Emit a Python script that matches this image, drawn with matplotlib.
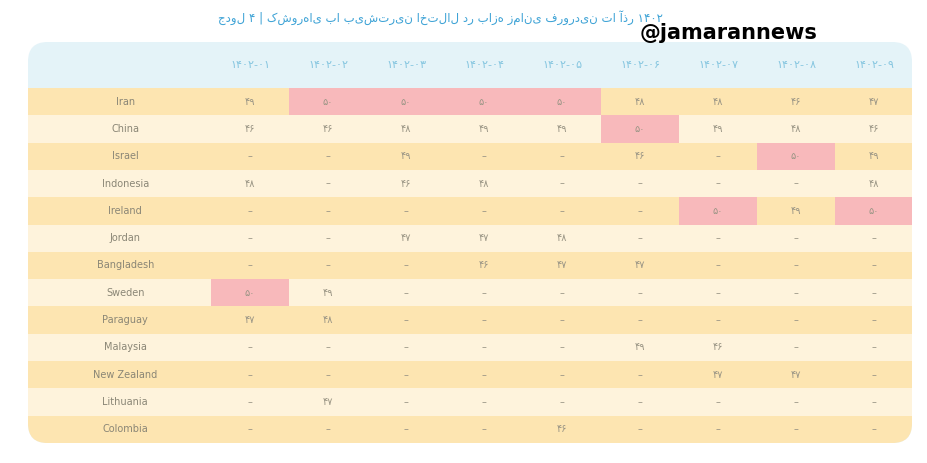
import matplotlib.pyplot as plt
from matplotlib.patches import Rectangle, FancyBboxPatch

plt.rcParams['font.family'] = ['DejaVu Sans']

title = 'جدول ۴ | کشورهای با بیشترین اختلال در بازه زمانی فروردین تا آذر ۱۴۰۲'
months = ['۱۴۰۲-۰۱', '۱۴۰۲-۰۲', '۱۴۰۲-۰۳', '۱۴۰۲-۰۴', '۱۴۰۲-۰۵',
          '۱۴۰۲-۰۶', '۱۴۰۲-۰۷', '۱۴۰۲-۰۸', '۱۴۰۲-۰۹']
countries = ['Iran', 'China', 'Israel', 'Indonesia', 'Ireland', 'Jordan',
             'Bangladesh', 'Sweden', 'Paraguay', 'Malaysia', 'New Zealand',
             'Lithuania', 'Colombia']
# 0 = no value (dash)
values = [
    [49, 50, 50, 50, 50, 48, 48, 46, 47],
    [46, 46, 48, 49, 49, 50, 49, 48, 46],
    [0, 0, 49, 0, 0, 46, 0, 50, 49],
    [48, 0, 46, 48, 0, 0, 0, 0, 48],
    [0, 0, 0, 0, 0, 0, 50, 49, 50],
    [0, 0, 47, 47, 48, 0, 0, 0, 0],
    [0, 0, 0, 46, 47, 47, 0, 0, 0],
    [50, 49, 0, 0, 0, 0, 0, 0, 0],
    [47, 48, 0, 0, 0, 0, 0, 0, 0],
    [0, 0, 0, 0, 0, 49, 46, 0, 0],
    [0, 0, 0, 0, 0, 0, 47, 47, 0],
    [0, 47, 0, 0, 0, 0, 0, 0, 0],
    [0, 0, 0, 0, 46, 0, 0, 0, 0],
]

fa = str.maketrans('0123456789', '۰۱۲۳۴۵۶۷۸۹')

fig = plt.figure(figsize=(9.27, 4.63), dpi=100)
fig.patch.set_facecolor('white')
# table panel, pixel extents 28..912 x 42..443
ax = fig.add_axes([28/927, 1-443/463, 884/927, 401/463])
x0, x1 = (28-250)/78, (912-250)/78
y0, y1 = (42-88)/27.3 - 0.5, (443-88)/27.3 - 0.5
ax.set_xlim(x0, x1)
ax.set_ylim(y1, y0)
ax.axis('off')

panel = FancyBboxPatch((x0, y0), x1-x0, y1-y0,
                       boxstyle='round,pad=0,rounding_size=0.25',
                       mutation_aspect=78/27.3,
                       fc='#e4f3f8', ec='none')
ax.add_patch(panel)

dark, light, pink = '#fde5b1', '#fef3dc', '#f8b9bb'
for r, name in enumerate(countries):
    rect = Rectangle((x0, r-0.5), x1-x0, 1, fc=dark if r % 2 == 0 else light, ec='none')
    ax.add_patch(rect)
    rect.set_clip_path(panel)
    ax.text(-1.6, r, name, ha='center', va='center', fontsize=7, color='#8a8676')
    for c, v in enumerate(values[r]):
        if v == 50:
            ax.add_patch(Rectangle((c-0.5, r-0.5), 1, 1, fc=pink, ec='none'))
        s = str(v).translate(fa) if v else '–'
        ax.text(c, r, s, ha='center', va='center', fontsize=7, color='#9a9585')

for c, m in enumerate(months):
    ax.text(c, -1.35, m, ha='center', va='center', fontsize=8, color='#86c6e0')

fig.text(218/927, 1-18/463, title, ha='left', va='center', fontsize=8.5, color='#3ea3d6')
fig.text(640/927, 1-33/463, '@jamarannews', ha='left', va='center',
         fontsize=15, fontweight='bold', color='black')

fig.savefig('out.png', dpi=100)
